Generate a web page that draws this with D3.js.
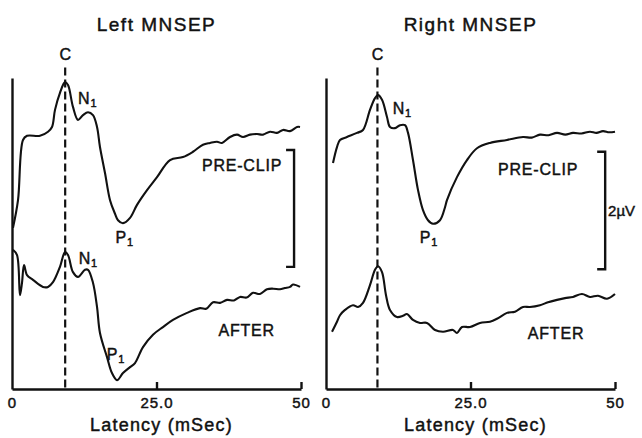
<!DOCTYPE html>
<html>
<head>
<meta charset="utf-8">
<script src="https://cdn.jsdelivr.net/npm/d3@7"></script>
<style>
  body { margin: 0; background: #fff; }
  text { font-family: "Liberation Sans", Arial, sans-serif; fill: #111; stroke: #111; stroke-width: 0.45px; }
</style>
</head>
<body>
<div id="chart"></div>
<script>
// latency (ms), amplitude (µV above axis)
const leftPre = [
  [0.17, 2.73], [1.04, 3.20], [1.90, 4.22], [2.60, 4.29], [4.84, 4.29], [6.23, 4.36],
  [6.92, 4.44], [7.44, 4.73], [8.30, 5.02], [9.17, 5.20], [9.69, 5.15], [10.55, 4.78],
  [11.42, 4.56], [12.28, 4.64], [13.15, 4.69], [14.01, 4.64], [14.71, 4.44], [15.22, 4.10],
  [16.09, 3.66], [16.96, 3.20], [17.82, 2.97], [18.34, 2.86], [19.20, 2.81], [20.42, 2.90],
  [21.63, 3.12], [23.36, 3.37], [25.09, 3.59], [27.34, 3.88], [29.58, 3.93], [31.31, 4.02],
  [33.04, 4.14], [34.26, 4.17], [35.47, 4.19], [36.33, 4.17], [37.72, 4.27], [38.93, 4.31],
  [39.97, 4.27], [41.18, 4.31], [42.39, 4.32], [43.43, 4.31], [44.64, 4.36], [45.85, 4.34],
  [46.89, 4.39], [48.10, 4.37], [49.31, 4.44], [49.83, 4.44]
];
const leftAfter = [
  [0.17, 2.36], [0.87, 2.27], [1.38, 1.59], [1.73, 1.80], [2.08, 2.10], [2.60, 1.93],
  [3.63, 1.85], [5.36, 1.73], [6.23, 1.73], [7.09, 1.81], [8.30, 2.07], [9.17, 2.32],
  [9.69, 2.27], [10.55, 1.98], [11.42, 1.90], [12.63, 2.02], [13.15, 2.02], [14.01, 1.80],
  [14.71, 1.39], [15.22, 0.95], [16.44, 0.54], [17.30, 0.27], [18.17, 0.15], [19.20, 0.27],
  [20.42, 0.37], [21.28, 0.44], [22.66, 0.71], [24.39, 0.92], [26.12, 1.05], [27.85, 1.17],
  [30.28, 1.29], [32.53, 1.37], [33.60, 1.36], [34.78, 1.47], [36.00, 1.46], [37.20, 1.51],
  [38.40, 1.50], [39.45, 1.56], [40.60, 1.55], [41.70, 1.63], [42.90, 1.61], [44.12, 1.69],
  [45.20, 1.70], [46.37, 1.69], [47.20, 1.71], [48.10, 1.73], [48.62, 1.77], [49.83, 1.73]
];
const rightPre = [
  [1.21, 3.83], [1.90, 4.10], [2.42, 4.22], [3.63, 4.27], [5.36, 4.34], [6.40, 4.39],
  [7.61, 4.73], [8.48, 4.93], [9.00, 4.98], [9.69, 4.90], [10.55, 4.61], [11.07, 4.44],
  [11.94, 4.42], [12.80, 4.47], [13.67, 4.47], [14.19, 4.34], [15.05, 3.88], [15.92, 3.37],
  [16.78, 3.03], [17.65, 2.86], [18.51, 2.80], [19.72, 2.86], [20.59, 3.08], [20.93, 3.20],
  [22.66, 3.59], [24.39, 3.88], [26.12, 4.08], [28.37, 4.17], [31.31, 4.22], [34.08, 4.27],
  [35.60, 4.26], [37.02, 4.31], [38.50, 4.30], [39.97, 4.34], [41.40, 4.31], [42.73, 4.34],
  [44.20, 4.33], [45.67, 4.36], [46.80, 4.34], [47.92, 4.37], [49.00, 4.35], [50.0, 4.36]
];
const rightAfter = [
  [1.04, 0.97], [1.90, 1.14], [2.42, 1.25], [3.29, 1.34], [4.67, 1.42], [5.54, 1.39],
  [6.40, 1.46], [7.61, 1.76], [8.48, 2.02], [9.00, 2.08], [9.69, 1.98], [10.38, 1.59],
  [11.07, 1.34], [12.28, 1.22], [13.32, 1.24], [14.01, 1.27], [15.05, 1.17], [16.26, 1.12],
  [17.47, 1.12], [18.86, 1.00], [20.24, 0.97], [21.97, 1.00], [22.66, 0.95], [23.53, 1.05],
  [24.91, 1.05], [26.64, 1.12], [28.37, 1.14], [29.58, 1.19], [31.31, 1.29], [32.70, 1.31],
  [34.08, 1.39], [35.29, 1.39], [37.02, 1.42], [38.41, 1.47], [39.97, 1.51], [41.35, 1.54],
  [42.73, 1.56], [44.29, 1.61], [45.67, 1.56], [47.06, 1.58], [48.62, 1.53], [50.0, 1.61]
];

const titles = ["Left MNSEP", "Right MNSEP"];
const cLatency = [9.2, 8.9];          // dashed "C" line
const tickValues = [0, 25, 50];
const tickLabels = ["0", "25.0", "50"];
const scaleBar = [[48.8, 2.07, 4.05], [48.3, 2.03, 4.02]]; // x, from, to (2 µV)

const W = 642, H = 438;
const svg = d3.select("#chart").append("svg")
  .attr("width", W).attr("height", H);

const panels = [
  {x0: 12, pre: leftPre, after: leftAfter,
   labels: [
     {t: "N", s: "1", x: 13.1, y: 4.93}, {t: "P", s: "1", x: 19.5, y: 2.58},
     {t: "N", s: "1", x: 13.2, y: 2.22}, {t: "P", s: "1", x: 18.0, y: 0.59},
     {t: "PRE-CLIP", x: 39.8, y: 3.80}, {t: "AFTER", x: 40.6, y: 1.0}
   ]},
  {x0: 326, pre: rightPre, after: rightAfter,
   labels: [
     {t: "N", s: "1", x: 13.2, y: 4.76}, {t: "P", s: "1", x: 17.8, y: 2.58},
     {t: "PRE-CLIP", x: 36.7, y: 3.73}, {t: "AFTER", x: 39.8, y: 0.95}
   ]}
];

panels.forEach((p, i) => {
  const x = d3.scaleLinear().domain([0, 50]).range([p.x0, p.x0 + 289]);
  const y = d3.scaleLinear().domain([0, 5.27]).range([389, 78]);
  const g = svg.append("g");

  // x axis, ticks pointing up
  const xAxis = g.append("g")
    .attr("transform", `translate(0,389)`)
    .call(d3.axisBottom(x).tickValues(tickValues).tickSize(-7).tickSizeOuter(0)
      .tickFormat((d, k) => tickLabels[k]));
  xAxis.select(".domain").attr("stroke", "#111").attr("stroke-width", 2.4);
  xAxis.selectAll(".tick line").attr("stroke", "#111").attr("stroke-width", 2.4);
  xAxis.selectAll(".tick text")
    .attr("y", 8).attr("dy", "0.71em")
    .style("font-size", "15px").style("letter-spacing", "1px")
    .style("font-family", "'Liberation Sans', Arial, sans-serif").attr("fill", "#111");
  xAxis.selectAll(".tick").filter(d => d === 0).select("line").remove();

  // y axis: plain line
  const yAxis = g.append("g")
    .attr("transform", `translate(${p.x0},0)`)
    .call(d3.axisLeft(y).tickValues([]).tickSizeOuter(0));
  yAxis.select(".domain").attr("stroke", "#111").attr("stroke-width", 2.4);

  // dashed C line
  g.append("line")
    .attr("x1", x(cLatency[i])).attr("x2", x(cLatency[i]))
    .attr("y1", y(5.45)).attr("y2", y(0))
    .attr("stroke", "#111").attr("stroke-width", 2.2)
    .attr("stroke-dasharray", "8,4");
  g.append("text")
    .attr("x", x(cLatency[i])).attr("y", y(5.66))
    .attr("text-anchor", "middle").attr("dominant-baseline", "central")
    .style("font-size", "16px").text("C");

  // traces
  const line = d3.line().x(d => x(d[0])).y(d => y(d[1])).curve(d3.curveCatmullRom);
  [p.pre, p.after].forEach(tr => {
    g.append("path").datum(tr)
      .attr("d", line)
      .attr("fill", "none").attr("stroke", "#111").attr("stroke-width", 2.1)
      .attr("stroke-linejoin", "round");
  });

  // scale bracket
  const sb = scaleBar[i];
  g.append("path")
    .attr("d", `M${x(sb[0]) - 8},${y(sb[2])}H${x(sb[0])}V${y(sb[1])}H${x(sb[0]) - 8}`)
    .attr("fill", "none").attr("stroke", "#111").attr("stroke-width", 2.4);

  // labels
  p.labels.forEach(l => {
    const t = g.append("text")
      .attr("x", x(l.x)).attr("y", y(l.y))
      .attr("text-anchor", "middle").attr("dominant-baseline", "central")
      .style("font-size", "16px").style("letter-spacing", "0.8px");
    t.append("tspan").text(l.t);
    if (l.s) t.append("tspan").attr("dy", 5).style("font-size", "11px").text(l.s);
  });

  // titles
  g.append("text")
    .attr("x", x(25)).attr("y", 24)
    .attr("text-anchor", "middle").attr("dominant-baseline", "central")
    .style("font-size", "19px").style("letter-spacing", "1.5px")
    .text(titles[i]);
  g.append("text")
    .attr("x", x(25) + 5).attr("y", 425)
    .attr("text-anchor", "middle").attr("dominant-baseline", "central")
    .style("font-size", "18px").style("letter-spacing", "1.2px")
    .text("Latency (mSec)");
});

// 2 µV label, beside the middle of the right bracket
const xr = d3.scaleLinear().domain([0, 50]).range([326, 615]);
const yr = d3.scaleLinear().domain([0, 5.27]).range([389, 78]);
svg.append("text")
  .attr("x", xr(48.8)).attr("y", yr(3.03))
  .attr("dominant-baseline", "central")
  .style("font-size", "15px").text("2µV");
</script>
</body>
</html>
